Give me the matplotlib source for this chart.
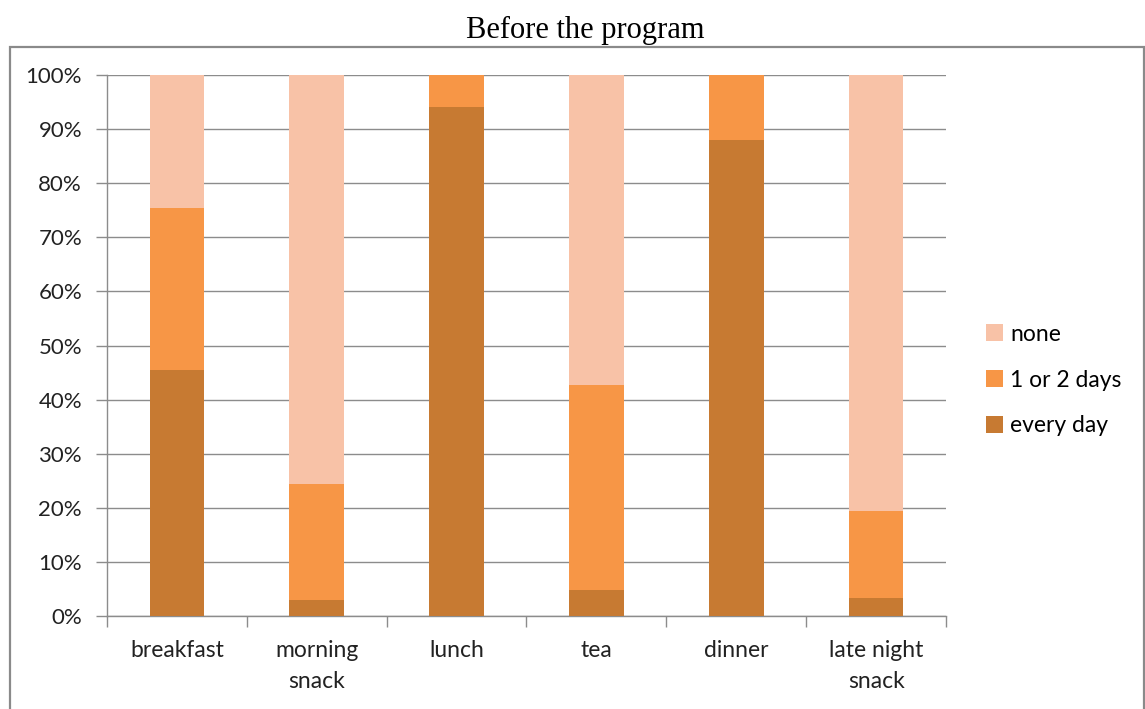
import matplotlib
matplotlib.use("Agg")
import matplotlib.pyplot as plt
import numpy as np
from matplotlib.patches import Rectangle
from matplotlib.ticker import FuncFormatter

categories = ["breakfast", "morning\nsnack", "lunch", "tea", "dinner", "late night\nsnack"]
every_day = [45.5, 3.0, 94.0, 4.8, 88.0, 3.3]
one_or_two = [29.9, 21.4, 6.0, 37.9, 12.0, 16.1]
none = [100 - a - b for a, b in zip(every_day, one_or_two)]
series_names = ["every day", "1 or 2 days", "none"]
colors = ["#C77A32", "#F79646", "#F8C2A7"]
title = "Before the program"

W, H = 1145, 709
fig = plt.figure(figsize=(W / 100, H / 100), dpi=100)
font = "Lato"

# outer frame
fig.patches.append(Rectangle((10 / W, -0.05), (1144 - 10) / W, 1.05 - 47 / H,
                             transform=fig.transFigure, fill=False,
                             edgecolor="#8a8a8a", linewidth=1.6))

ax = fig.add_axes([107 / W, 1 - 616 / H, (946 - 107) / W, (616 - 75) / H])
x = np.arange(len(categories))
bottom = np.zeros(len(categories))
for name, vals, c in zip(series_names, [every_day, one_or_two, none], colors):
    ax.bar(x, vals, width=0.39, bottom=bottom, color=c, label=name, zorder=3)
    bottom += np.array(vals)

ax.set_xlim(-0.5, len(categories) - 0.5)
ax.set_ylim(0, 100)
ax.set_yticks(np.arange(0, 101, 10))
ax.yaxis.set_major_formatter(FuncFormatter(lambda v, p: f"{int(v)}%"))
ax.grid(axis="y", color="#8c8c8c", linewidth=1.0, zorder=0)
ax.set_xticks(x)
ax.set_xticklabels(categories, fontfamily=font, fontsize=16.5, color="#222222", linespacing=1.6)
ax.set_xticks(np.arange(-0.5, len(categories)), minor=True)
ax.tick_params(axis="x", which="major", length=0, pad=17)
ax.tick_params(axis="x", which="minor", length=8, color="#8c8c8c", width=1)
ax.tick_params(axis="y", length=8, color="#8c8c8c", width=1, pad=10)
for lab in ax.get_yticklabels():
    lab.set_fontfamily(font)
    lab.set_fontsize(16)
    lab.set_color("#222222")
for s in ["top", "right"]:
    ax.spines[s].set_visible(False)
for s in ["left", "bottom"]:
    ax.spines[s].set_color("#8c8c8c")
    ax.spines[s].set_linewidth(1.0)

fig.text(585 / W, 1 - 30 / H, title, ha="center", va="center",
         fontfamily="Liberation Serif", fontsize=22, color="black")

handles, labels = ax.get_legend_handles_labels()
leg = fig.legend(handles[::-1], labels[::-1], loc="center left",
                 bbox_to_anchor=(970 / W, 1 - 380 / H), frameon=False,
                 prop={"family": font, "size": 16.5}, handlelength=0.75,
                 handleheight=0.75, handletextpad=0.3, labelspacing=1.08,
                 borderpad=0.2)

fig.savefig("out.png", dpi=100)
